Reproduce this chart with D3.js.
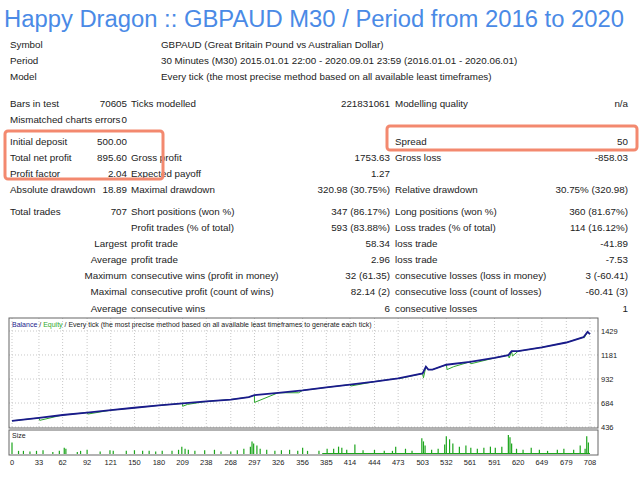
<!DOCTYPE html>
<html><head><meta charset="utf-8">
<script src="https://cdn.jsdelivr.net/npm/d3@7"></script>
<style>body{margin:0;background:#fff}text{font-family:"Liberation Sans",sans-serif}</style>
</head><body><div id="chart"></div>
<script>
const headerRows = [
  ["Symbol", "GBPAUD (Great Britain Pound vs Australian Dollar)"],
  ["Period", "30 Minutes (M30) 2015.01.01 22:00 - 2020.09.01 23:59 (2016.01.01 - 2020.06.01)"],
  ["Model", "Every tick (the most precise method based on all available least timeframes)"]
];
const rowY = [103,119,141,157,173,189,211,227,243,259,275,291,308];
const statRows = [
  ["Bars in test", "70605", "Ticks modelled", "221831061", "Modelling quality", "n/a"],
  ["Mismatched charts errors", "0", "", "", "", ""],
  ["Initial deposit", "500.00", "", "", "Spread", "50"],
  ["Total net profit", "895.60", "Gross profit", "1753.63", "Gross loss", "-858.03"],
  ["Profit factor", "2.04", "Expected payoff", "1.27", "", ""],
  ["Absolute drawdown", "18.89", "Maximal drawdown", "320.98 (30.75%)", "Relative drawdown", "30.75% (320.98)"],
  ["Total trades", "707", "Short positions (won %)", "347 (86.17%)", "Long positions (won %)", "360 (81.67%)"],
  ["", "", "Profit trades (% of total)", "593 (83.88%)", "Loss trades (% of total)", "114 (16.12%)"],
  ["Largest", "", "profit trade", "58.34", "loss trade", "-41.89"],
  ["Average", "", "profit trade", "2.96", "loss trade", "-7.53"],
  ["Maximum", "", "consecutive wins (profit in money)", "32 (61.35)", "consecutive losses (loss in money)", "3 (-60.41)"],
  ["Maximal", "", "consecutive profit (count of wins)", "82.14 (2)", "consecutive loss (count of losses)", "-60.41 (3)"],
  ["Average", "", "consecutive wins", "6", "consecutive losses", "1"]
];
const xTicks = [0,33,62,92,121,150,180,209,238,268,297,326,356,385,414,444,473,503,532,561,591,620,649,679,708];
const yTicks = [436,684,932,1181,1429];
const balTrades = [0,33,62,92,121,150,180,209,238,268,290,297,326,356,385,414,444,473,503,507,510,515,532,561,591,608,612,620,649,679,700,705,708];
const balValues = [500,530,560,585,610,635,660,680,700,720,745,765,790,815,845,875,905,940,990,1060,1030,1030,1080,1110,1150,1180,1220,1220,1260,1310,1365,1420,1396];
// equity dips [trade, equity]
const eqDips = [[34,505],[93,570],[209,650],[215,670],[297,690],[351,790],[415,860],[474,935],[504,945],[533,1030],[541,1060],[562,1090],[609,1150],[613,1170],[701,1360]];
const sizeTrades = [0,8,14,22,30,38,50,58,64,66,80,84,92,108,120,124,140,150,160,168,176,184,196,204,208,212,216,224,236,248,256,268,276,284,292,294,296,300,304,312,322,330,340,350,356,362,376,386,394,400,404,410,420,430,444,456,466,470,482,490,502,504,506,514,522,530,532,536,540,548,556,562,570,578,586,592,600,608,610,612,618,626,636,646,656,668,676,688,696,702,704,706];
const sizeValues = [0.55,0.15,0.15,0.12,0.15,0.18,0.1,0.15,0.3,0.25,0.1,0.15,0.2,0.12,0.18,0.15,0.15,0.18,0.15,0.15,0.12,0.15,0.15,0.2,0.35,0.25,0.2,0.15,0.18,0.2,0.12,0.12,0.18,0.25,0.35,0.6,0.5,0.4,0.25,0.2,0.15,0.18,0.2,0.15,0.3,0.15,0.15,0.25,0.25,0.35,0.3,0.2,0.45,0.18,0.2,0.15,0.15,0.35,0.25,0.15,0.75,0.6,0.4,0.2,0.25,0.45,0.85,0.7,0.5,0.35,0.4,0.3,0.25,0.3,0.35,0.3,0.35,0.9,0.8,0.5,0.25,0.2,0.3,0.2,0.15,0.2,0.25,0.2,0.4,0.25,0.85,0.55];

const svg = d3.select("#chart").append("svg").attr("width", 640).attr("height", 480);

svg.append("text").attr("x", 4).attr("y", 27).attr("fill", "#4a8ae6")
  .attr("font-size", 23).attr("textLength", 620).attr("lengthAdjust", "spacingAndGlyphs")
  .text("Happy Dragon :: GBPAUD M30 / Period from 2016 to 2020");

const t = svg.append("g").attr("font-size", 9.8).attr("fill", "#222");
headerRows.forEach((r, i) => {
  const y = 48 + i * 16;
  t.append("text").attr("x", 10).attr("y", y).text(r[0]);
  t.append("text").attr("x", 161).attr("y", y).text(r[1]);
});
statRows.forEach((r, i) => {
  const y = rowY[i] + 4;
  const right = i >= 8;
  t.append("text").attr("x", right ? 127 : 10).attr("y", y).attr("text-anchor", right ? "end" : "start").text(r[0]);
  t.append("text").attr("x", 127).attr("y", y).attr("text-anchor", "end").text(r[1]);
  t.append("text").attr("x", 131).attr("y", y).text(r[2]);
  t.append("text").attr("x", 390).attr("y", y).attr("text-anchor", "end").text(r[3]);
  t.append("text").attr("x", 395).attr("y", y).text(r[4]);
  t.append("text").attr("x", 628).attr("y", y).attr("text-anchor", "end").text(r[5]);
});

svg.append("rect").attr("x", 5).attr("y", 131).attr("width", 158).attr("height", 48).attr("rx", 3)
  .attr("fill", "none").attr("stroke", "#f3896f").attr("stroke-width", 3);
svg.append("rect").attr("x", 387).attr("y", 126).attr("width", 250).attr("height", 24).attr("rx", 3)
  .attr("fill", "none").attr("stroke", "#f3896f").attr("stroke-width", 3);

const L = 9, R = 598, T = 318, B = 428, S = 455;
const x = d3.scaleLinear().domain([0, 708]).range([12, 590]);
const y = d3.scaleLinear().domain([436, 1429]).range([B - 1, 331]);
const ys = d3.scaleLinear().domain([0, 1]).range([S - 1, 433]);

const grid = svg.append("g").attr("stroke", "#c8c8c8").attr("stroke-dasharray", "1,2");
xTicks.forEach(v => grid.append("line").attr("x1", x(v)).attr("x2", x(v)).attr("y1", T).attr("y2", B));
yTicks.forEach(v => grid.append("line").attr("x1", L).attr("x2", R).attr("y1", y(v)).attr("y2", y(v)));

svg.append("rect").attr("x", L).attr("y", T).attr("width", R - L).attr("height", B - T).attr("fill", "none").attr("stroke", "#666");
svg.append("rect").attr("x", L).attr("y", B + 2).attr("width", R - L).attr("height", S - B - 2).attr("fill", "none").attr("stroke", "#666");

const bal = balTrades.map((d, i) => [d, balValues[i]]);
const eq = bal.concat(eqDips).sort((a, b) => a[0] - b[0]);
const line = d3.line().x(d => x(d[0])).y(d => y(d[1]));
svg.append("path").datum(eq).attr("d", line).attr("fill", "none").attr("stroke", "#2ea82e").attr("stroke-width", 1);
svg.append("path").datum(bal).attr("d", line).attr("fill", "none").attr("stroke", "#1a1a8c").attr("stroke-width", 1.8);

svg.append("line").attr("x1", x(380)).attr("x2", x(708)).attr("y1", S - 1.5).attr("y2", S - 1.5).attr("stroke", "#1ca51c");
svg.append("g").selectAll("line").data(sizeTrades).join("line")
  .attr("x1", d => x(d)).attr("x2", d => x(d)).attr("y1", ys(0)).attr("y2", (d, i) => ys(sizeValues[i]))
  .attr("stroke", "#1ca51c").attr("stroke-width", 1.2);

const leg = svg.append("text").attr("x", 12).attr("y", 327).attr("font-size", 7).attr("fill", "#222");
leg.append("tspan").attr("fill", "#1a1a8c").text("Balance");
leg.append("tspan").text(" / ");
leg.append("tspan").attr("fill", "#2ea82e").text("Equity");
leg.append("tspan").text(" / Every tick (the most precise method based on all available least timeframes to generate each tick)");
svg.append("text").attr("x", 12).attr("y", 438).attr("font-size", 7).attr("fill", "#222").text("Size");

const ax = svg.append("g").attr("font-size", 7.5).attr("fill", "#222");
xTicks.forEach(v => ax.append("text").attr("x", x(v)).attr("y", 465).attr("text-anchor", "middle").text(v));
yTicks.forEach(v => ax.append("text").attr("x", 601).attr("y", y(v) + 3).text(v));
</script></body></html>
